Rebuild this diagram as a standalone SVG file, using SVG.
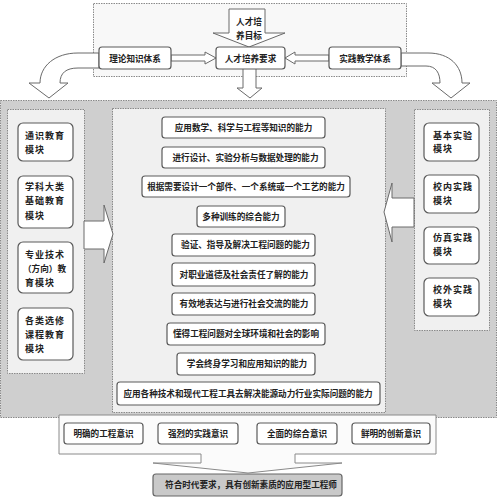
<svg xmlns="http://www.w3.org/2000/svg" width="497" height="500" viewBox="0 0 497 500">
<defs>
<style>
.panel{stroke:#8a8a8a;stroke-width:1;stroke-dasharray:1.5 1;}
.node{fill:#ffffff;stroke:#5a5a5a;stroke-width:1.2;}
.arr{fill:#ffffff;stroke:#6a6a6a;stroke-width:1;stroke-linejoin:miter;}
.t{font-family:"Noto Sans CJK SC","Noto Sans CJK JP",sans-serif;font-size:8.6px;font-weight:bold;fill:#222;}
.c{text-anchor:middle;}
.m{font-size:9px;letter-spacing:1px;}
</style>
</defs>
<rect width="497" height="500" fill="#ffffff"/>
<!-- containers -->
<rect x="93.5" y="3.5" width="313" height="73" fill="#f8f8f8" class="panel"/>
<rect x="0.5" y="100.5" width="496" height="317" fill="#cfcfcf" class="panel"/>
<rect x="7.5" y="109.5" width="77" height="264" fill="#f0f0f0" class="panel"/>
<rect x="112.5" y="108.5" width="273" height="304" fill="#f0f0f0" class="panel"/>
<rect x="414.5" y="109.5" width="75" height="221" fill="#f0f0f0" class="panel"/>

<g id="connectors">
<path class="arr" d="M99,53 L78,53 C55,53 40,66 40,83 L29,83 L49,98 L68,83 L60,83 C60,73 66,68 78,68 L99,68 Z"/>
<path class="arr" d="M401,53 L428,53 C450,53 462,66 462,83 L470,83 L451,98 L432,83 L440,83 C440,73 436,66 426,66 L401,66 Z"/>
<polygon class="arr" points="229,9 265,9 265,33 285,33 249,47 213,33 229,33"/>
<polygon class="arr" points="171,55 205,55 205,52 216,58 205,64 205,61 171,61"/>
<polygon class="arr" points="329,55 295,55 295,52 285,58 295,64 295,61 329,61"/>
<polygon class="arr" points="243,68 256,68 256,88 262,88 250,98 237,88 243,88"/>
<polygon class="arr" points="84,221 104,221 104,205 113,234 104,263 104,249 84,249"/>
<polygon class="arr" points="414,198 392,198 392,183 384,212 392,242 392,227 414,227"/>
<polygon class="arr" points="59,415 436,415 436,454 295,454 295,463 342,463 248,473 153,463 201,463 201,454 59,454" style="fill:#fbfbfb;stroke:#8a8a8a"/>
</g>

<g id="goal"><text class="t c" x="249" y="25">人才培</text><text class="t c" x="249" y="38.5">养目标</text></g>

<g id="theory"><rect class="node" x="99" y="47" width="72" height="22" rx="3"/><text class="t c" x="135" y="61.5">理论知识体系</text></g>
<g id="req"><rect class="node" x="216" y="47" width="69" height="22" rx="3"/><text class="t c" x="250.5" y="61.5">人才培养要求</text></g>
<g id="practice"><rect class="node" x="329" y="47" width="72" height="22" rx="3"/><text class="t c" x="365" y="61.5">实践教学体系</text></g>

<g id="l1"><rect class="node" x="18" y="123" width="55" height="38" rx="5"/><text class="t m" x="25" y="138.5">通识教育</text><text class="t m" x="25" y="152.5">模块</text></g>
<g id="l2"><rect class="node" x="18" y="176" width="55" height="52" rx="5"/><text class="t m" x="25" y="189.5">学科大类</text><text class="t m" x="25" y="204">基础教育</text><text class="t m" x="25" y="218.5">模块</text></g>
<g id="l3"><rect class="node" x="18" y="242" width="55" height="51" rx="5"/><text class="t m" x="25" y="257.5">专业技术</text><text class="t" x="23" y="271.5" textLength="43" lengthAdjust="spacingAndGlyphs">（方向）教</text><text class="t m" x="25" y="285.5">育模块</text></g>
<g id="l4"><rect class="node" x="18" y="308" width="55" height="52" rx="5"/><text class="t m" x="25" y="323.5">各类选修</text><text class="t m" x="25" y="337.5">课程教育</text><text class="t m" x="25" y="351.5">模块</text></g>

<g id="c1"><rect class="node" x="162" y="117" width="163" height="21" rx="3"/><text class="t c" x="243.5" y="130.5">应用数学、科学与工程等知识的能力</text></g>
<g id="c2"><rect class="node" x="162" y="147" width="163" height="21" rx="3"/><text class="t c" x="245.5" y="160.5">进行设计、实验分析与数据处理的能力</text></g>
<g id="c3"><rect class="node" x="142" y="176" width="208" height="21" rx="3"/><text class="t c" x="246" y="189.5">根据需要设计一个部件、一个系统或一个工艺的能力</text></g>
<g id="c4"><rect class="node" x="197" y="206" width="88" height="21" rx="3"/><text class="t c" x="241" y="219.5">多种训练的综合能力</text></g>
<g id="c5"><rect class="node" x="172" y="234" width="143" height="22" rx="3"/><text class="t c" x="245.5" y="248">验证、指导及解决工程问题的能力</text></g>
<g id="c6"><rect class="node" x="172" y="263" width="143" height="23" rx="3"/><text class="t c" x="244" y="277.5">对职业道德及社会责任了解的能力</text></g>
<g id="c7"><rect class="node" x="172" y="293" width="143" height="22" rx="3"/><text class="t c" x="244" y="307">有效地表达与进行社会交流的能力</text></g>
<g id="c8"><rect class="node" x="167" y="323" width="158" height="22" rx="3"/><text class="t c" x="246" y="337">懂得工程问题对全球环境和社会的影响</text></g>
<g id="c9"><rect class="node" x="177" y="353" width="138" height="22" rx="3"/><text class="t c" x="247" y="367">学会终身学习和应用知识的能力</text></g>
<g id="c10"><rect class="node" x="117" y="382" width="263" height="23" rx="3"/><text class="t c" x="248" y="396.5">应用各种技术和现代工程工具去解决能源动力行业实际问题的能力</text></g>

<g id="r1"><rect class="node" x="424" y="123" width="55" height="38" rx="5"/><text class="t m" x="433" y="138.5">基本实验</text><text class="t m" x="433" y="151.5">模块</text></g>
<g id="r2"><rect class="node" x="424" y="175" width="55" height="38" rx="5"/><text class="t m" x="433" y="189.5">校内实践</text><text class="t m" x="433" y="203.5">模块</text></g>
<g id="r3"><rect class="node" x="424" y="227" width="55" height="37" rx="5"/><text class="t m" x="433" y="240.5">仿真实践</text><text class="t m" x="433" y="254.5">模块</text></g>
<g id="r4"><rect class="node" x="424" y="278" width="55" height="38" rx="5"/><text class="t m" x="433" y="292.5">校外实践</text><text class="t m" x="433" y="306.5">模块</text></g>

<g id="b1"><rect class="node" x="64" y="423" width="79" height="21" rx="3"/><text class="t c" x="103.5" y="436.5">明确的工程意识</text></g>
<g id="b2"><rect class="node" x="158" y="423" width="80" height="21" rx="3"/><text class="t c" x="198" y="436.5">强烈的实践意识</text></g>
<g id="b3"><rect class="node" x="257" y="423" width="80" height="21" rx="3"/><text class="t c" x="297" y="436.5">全面的综合意识</text></g>
<g id="b4"><rect class="node" x="352" y="423" width="78" height="21" rx="3"/><text class="t c" x="391" y="436.5">鲜明的创新意识</text></g>

<g id="final"><rect x="153" y="474" width="189" height="22" rx="3" fill="#c9c9c9" stroke="#666" stroke-width="1.2"/><text class="t c" x="251" y="488">符合时代要求，具有创新素质的应用型工程师</text></g>
</svg>
